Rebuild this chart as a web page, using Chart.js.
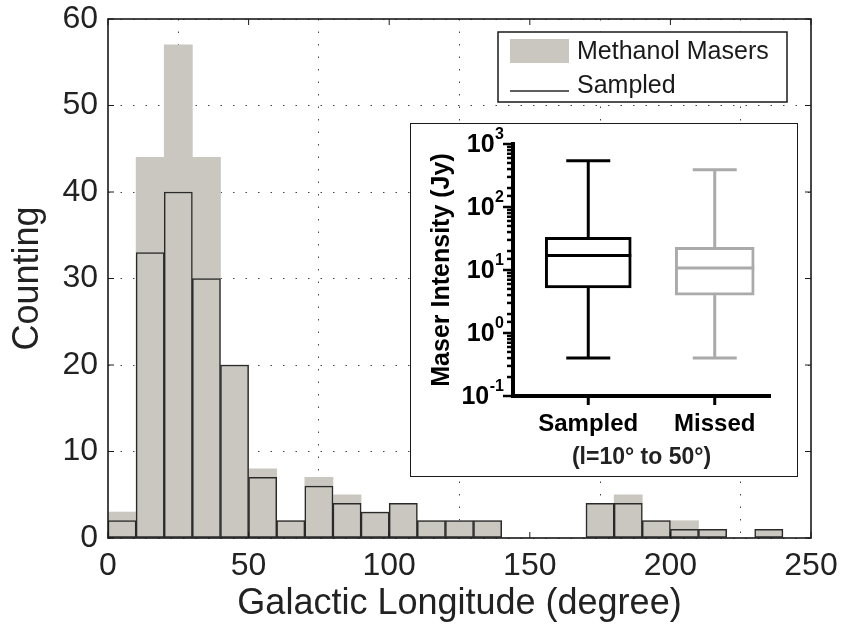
<!DOCTYPE html>
<html>
<head>
<meta charset="utf-8">
<script src="https://cdn.jsdelivr.net/npm/chart.js@4.4.1/dist/chart.umd.min.js"></script>
<style>
  html, body { margin: 0; padding: 0; background: #fff; }
  #wrap { position: relative; width: 845px; height: 630px; }
  #main { position: absolute; left: 0; top: 0; }
  #inset { position: absolute; left: 410px; top: 123px; width: 386px; height: 352px;
           background: #fff; border: 1.5px solid #1a1a1a; }
  #inset canvas { display: block; }
</style>
</head>
<body>
<div id="wrap">
  <canvas id="main" width="845" height="630"></canvas>
  <div id="inset"><canvas id="box" width="386" height="352"></canvas></div>
</div>
<script>
// histogram: 10 degree bins, left edges
const binStart = [0, 10, 20, 30, 40, 50, 60, 70, 80, 90, 100, 110, 120, 130, 140, 150, 160, 170, 180, 190, 200, 210, 220, 230]
const methanolCounts = [3, 44, 57, 44, 20, 8, 2, 7, 5, 3, 4, 2, 2, 2, 0, 0, 0, 4, 5, 2, 2, 1, 0, 1]
const sampledCounts = [2, 33, 40, 30, 20, 7, 2, 6, 4, 3, 4, 2, 2, 2, 0, 0, 0, 4, 4, 2, 1, 1, 0, 1]
const binWidth = 10

// inset box plot (Jy), l = 10 to 50 deg
const groups = ["Sampled", "Missed"]
const groupPos = [1, 2]
const whiskerLow = [0.4, 0.4]
const quart1 = [5.2, 4.0]
const median = [17, 10.8]
const quart3 = [33, 22.8]
const whiskerHigh = [540, 390]
const decadeExps = [-1, 0, 1, 2, 3]

const barGray = "#c9c7c0"
const fontFam = "'Liberation Sans', Arial, Helvetica, sans-serif"

const toPoints = (counts) => counts.map((c, i) => ({ x: binStart[i] + binWidth / 2, y: c }))

const line = (ctx, x1, y1, x2, y2) => {
  ctx.beginPath()
  ctx.moveTo(x1, y1)
  ctx.lineTo(x2, y2)
  ctx.stroke()
}

// frame, inward ticks and legend of the main axes
const framePlugin = {
  id: "frame",
  afterDatasetsDraw(chart) {
    const { ctx, chartArea: a, scales } = chart
    ctx.save()
    ctx.strokeStyle = "#1a1a1a"
    ctx.lineWidth = 1
    scales.x.ticks.forEach(t => {
      const px = scales.x.getPixelForValue(t.value)
      line(ctx, px, a.bottom, px, a.bottom - 6)
      line(ctx, px, a.top, px, a.top + 6)
    })
    scales.y.ticks.forEach(t => {
      const py = scales.y.getPixelForValue(t.value)
      line(ctx, a.left, py, a.left + 6, py)
      line(ctx, a.right, py, a.right - 6, py)
    })
    ctx.lineWidth = 1.6
    ctx.strokeRect(a.left, a.top, a.right - a.left, a.bottom - a.top)

    // legend
    const bw = 289, bh = 70
    const bx = a.right - 24 - bw, by = a.top + 13
    ctx.fillStyle = "#fff"
    ctx.fillRect(bx, by, bw, bh)
    ctx.lineWidth = 1.5
    ctx.strokeRect(bx, by, bw, bh)
    const ds = chart.data.datasets
    ctx.font = "25px " + fontFam
    ctx.textBaseline = "middle"
    ctx.textAlign = "left"
    ctx.fillStyle = ds[0].backgroundColor
    ctx.fillRect(bx + 12, by + 7, 59, 24)
    ctx.fillStyle = "#1a1a1a"
    ctx.fillText(ds[0].label, bx + 79, by + 20)
    ctx.strokeStyle = ds[1].borderColor
    ctx.lineWidth = 1.5
    line(ctx, bx + 12, by + 59, bx + 71, by + 59)
    ctx.fillText(ds[1].label, bx + 79, by + 54)
    ctx.restore()
  }
}

new Chart(document.getElementById("main"), {
  type: "bar",
  data: {
    datasets: [
      {
        label: "Methanol Masers",
        data: toPoints(methanolCounts),
        backgroundColor: barGray,
        borderWidth: 0,
        grouped: false,
        barPercentage: 1,
        categoryPercentage: 1,
        order: 2
      },
      {
        label: "Sampled",
        data: toPoints(sampledCounts),
        backgroundColor: barGray,
        borderColor: "#2a2a2a",
        borderWidth: 1.5,
        borderSkipped: false,
        grouped: false,
        barPercentage: 1,
        categoryPercentage: 1,
        order: 1
      }
    ]
  },
  options: {
    responsive: false,
    animation: false,
    layout: { padding: { top: 19, right: 34, left: 0, bottom: 0 } },
    plugins: { legend: { display: false }, tooltip: { enabled: false } },
    scales: {
      x: {
        type: "linear",
        min: 0,
        max: 250,
        offset: false,
        afterFit: (s) => { s.height = 92; s.paddingLeft = 0; s.paddingRight = 0 },
        ticks: { stepSize: 50, padding: 9, color: "#222", font: { family: fontFam, size: 32 } },
        grid: { color: "#444", lineWidth: 1, drawTicks: false },
        border: { display: false, dash: [1.5, 11] },
        title: { display: true, text: "Galactic Longitude (degree)", color: "#222",
                 font: { family: fontFam, size: 36 }, padding: { top: 0, bottom: 4 } }
      },
      y: {
        min: 0,
        max: 60,
        afterFit: (s) => { s.width = 108; s.paddingTop = 0; s.paddingBottom = 0 },
        ticks: { stepSize: 10, padding: 10, color: "#222", font: { family: fontFam, size: 32 } },
        grid: { color: "#444", lineWidth: 1, drawTicks: false },
        border: { display: false, dash: [1.5, 11] },
        title: { display: true, text: "Counting", color: "#222",
                 font: { family: fontFam, size: 36 }, padding: { top: 6, bottom: 0 } }
      }
    }
  },
  plugins: [framePlugin]
})

// inset: box plot on a log axis
const boxColors = ["#000000", "#aaaaaa"]
const boxWidths = [86, 79]

const whiskerPlugin = {
  id: "whiskers",
  afterDatasetsDraw(chart) {
    const { ctx, scales } = chart
    const ys = scales.y
    ctx.save()
    ctx.lineWidth = 3
    groups.forEach((g, i) => {
      const el = chart.getDatasetMeta(i).data[0]
      const cx = el.x, half = el.width / 2
      ctx.strokeStyle = boxColors[i]
      line(ctx, cx, ys.getPixelForValue(whiskerLow[i]), cx, ys.getPixelForValue(quart1[i]))
      line(ctx, cx, ys.getPixelForValue(quart3[i]), cx, ys.getPixelForValue(whiskerHigh[i]))
      const capY1 = ys.getPixelForValue(whiskerLow[i])
      const capY2 = ys.getPixelForValue(whiskerHigh[i])
      line(ctx, cx - 22, capY1, cx + 22, capY1)
      line(ctx, cx - 22, capY2, cx + 22, capY2)
      const my = ys.getPixelForValue(median[i])
      line(ctx, cx - half, my, cx + half, my)
    })
    ctx.restore()
  },
  afterDraw(chart) {
    const { ctx, chartArea: a, scales } = chart
    const ys = scales.y, xs = scales.x
    ctx.save()
    ctx.strokeStyle = "#000"
    ctx.lineWidth = 2.5
    ys.ticks.forEach(t => {
      const py = ys.getPixelForValue(t.value)
      const lg = Math.log10(t.value)
      const major = Math.abs(lg - Math.round(lg)) < 1e-6
      line(ctx, a.left, py, a.left - (major ? 10 : 6), py)
    })
    ctx.lineWidth = 3
    groupPos.forEach(p => {
      const px = xs.getPixelForValue(p)
      line(ctx, px, a.bottom, px, a.bottom + 9)
    })
    // decade labels 10^n
    ctx.fillStyle = "#000"
    ctx.textAlign = "right"
    ctx.textBaseline = "middle"
    decadeExps.forEach(e => {
      const py = ys.getPixelForValue(Math.pow(10, e))
      const right = a.left - 9
      ctx.font = "bold 16px " + fontFam
      const ex = String(e)
      const ew = ctx.measureText(ex).width
      ctx.fillText(ex, right, py - 9)
      ctx.font = "bold 25px " + fontFam
      ctx.fillText("10", right - ew - 0.5, py + 1)
    })
    ctx.restore()
  }
}

new Chart(document.getElementById("box"), {
  type: "bar",
  data: {
    datasets: groups.map((g, i) => ({
      label: g,
      data: [{ x: groupPos[i], y: [quart1[i], quart3[i]] }],
      backgroundColor: "#fff",
      borderColor: boxColors[i],
      borderWidth: 3,
      borderSkipped: false,
      grouped: false,
      barThickness: boxWidths[i]
    }))
  },
  options: {
    responsive: false,
    animation: false,
    layout: { padding: { top: 20, right: 27, left: 0, bottom: 0 } },
    plugins: { legend: { display: false }, tooltip: { enabled: false } },
    scales: {
      x: {
        type: "linear",
        min: 0.405,
        max: 2.437,
        offset: false,
        afterBuildTicks: (s) => { s.ticks = groupPos.map(v => ({ value: v })) },
        afterFit: (s) => { s.height = 80; s.paddingLeft = 0; s.paddingRight = 0 },
        grid: { display: false },
        border: { display: true, width: 4, color: "#000" },
        ticks: { padding: 6, color: "#000", font: { family: fontFam, size: 24, weight: "bold" },
                 callback: (v) => groups[groupPos.indexOf(v)] },
        title: { display: true, text: "(l=10° to 50°)", color: "#222",
                 font: { family: fontFam, size: 23, weight: "bold" }, padding: { top: 0, bottom: 5 } }
      },
      y: {
        type: "logarithmic",
        min: 0.1,
        max: 1000,
        afterFit: (s) => { s.width = 102; s.paddingTop = 0; s.paddingBottom = 0 },
        grid: { display: false },
        border: { display: true, width: 4, color: "#000" },
        ticks: { display: false },
        title: { display: true, text: "Maser Intensity (Jy)", color: "#000",
                 font: { family: fontFam, size: 25, weight: "bold" }, padding: { top: 16, bottom: 0 } }
      }
    }
  },
  plugins: [whiskerPlugin]
})
</script>
</body>
</html>
